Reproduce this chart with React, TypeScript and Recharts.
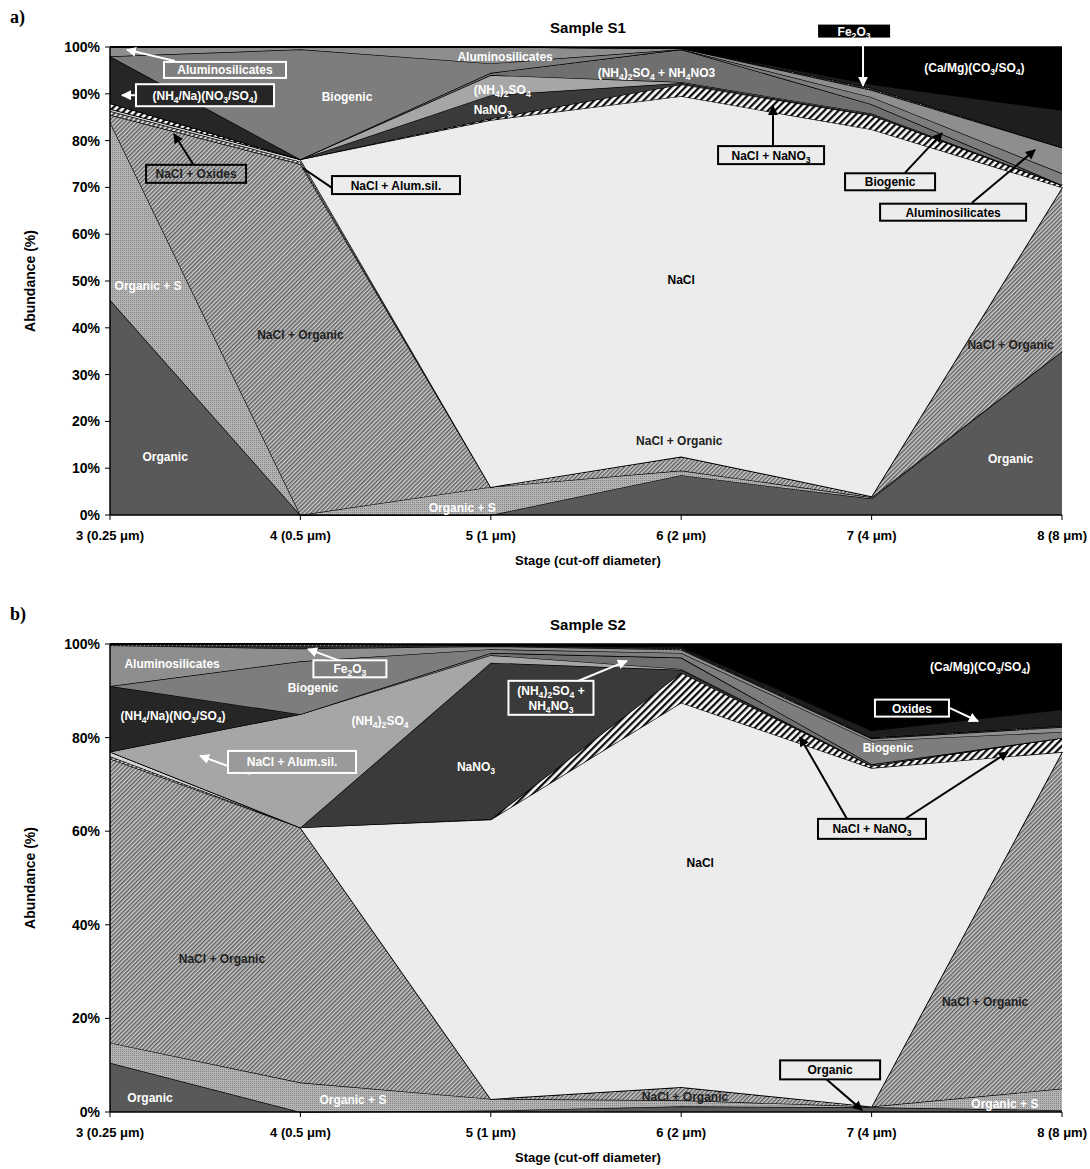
import React from "react";
import { AreaChart, Area, XAxis, YAxis } from "recharts";

const FONT = '"Liberation Sans", Arial, sans-serif';

const stages = ["3 (0.25 μm)", "4 (0.5 μm)", "5 (1 μm)", "6 (2 μm)", "7 (4 μm)", "8 (8 μm)"];

// Sample S1, abundance (%) per stage
const s1Organic = [46, 0, 0, 8.5, 3.5, 35];
const s1OrganicS = [38, 0, 6, 1, 0.3, 0];
const s1NaclOrganic = [1.5, 75, 0, 3, 0.2, 35];
const s1NaclOxides = [0.8, 0.5, 0, 0, 0, 0];
const s1NaclAlum = [0.5, 0.5, 0, 0, 0, 0];
const s1Nacl = [0, 0, 78.4, 77, 78.3, 0];
const s1NaclNano3 = [1.2, 0, 0.3, 2.5, 3, 0.5];
const s1Nano3 = [0, 0, 5, 0.3, 0.2, 0];
const s1Nh4so4 = [0, 0, 4.3, 0.2, 0.2, 0];
const s1Nh4so4no3 = [0, 0, 0.5, 7, 2, 0];
const s1Nh4na = [10, 0, 0, 0, 0, 0];
const s1Biogenic = [0, 23.5, 2, 0, 1.5, 2.5];
const s1Alum = [2, 0.5, 3.5, 0.2, 1.5, 5.5];
const s1Fe2o3 = [0, 0, 0, 0, 0.5, 0];
const s1Oxides = [0, 0, 0, 0, 0.7, 8];
const s1Camg = [0, 0, 0, 0.3, 8, 13.5];

// Sample S2
const s2Organic = [10.5, 0, 0.3, 1.2, 1, 0.4];
const s2OrganicS = [4.3, 6.3, 2.5, 1.3, 0.15, 4.6];
const s2NaclOrganic = [60.7, 54.5, 0, 2.8, 0.05, 72];
const s2NaclOxides = [0.5, 0, 0, 0, 0, 0];
const s2NaclAlum = [1, 0, 0, 0, 0, 0];
const s2Nacl = [0, 0, 59.7, 81.9, 72.3, 0];
const s2NaclNano3 = [0, 0, 0.1, 6.4, 0.5, 3];
const s2Nano3 = [0, 0, 33.4, 0.6, 0, 0];
const s2Nh4so4 = [0, 24.2, 1.6, 0.2, 0, 0];
const s2Nh4so4no3 = [0, 0, 0.5, 2.4, 0.3, 0];
const s2Nh4na = [14, 0, 0, 0, 0, 0];
const s2Biogenic = [0, 11.3, 0.8, 1, 5, 1.3];
const s2Alum = [8.7, 2.7, 0.6, 0.7, 0.5, 1];
const s2Fe2o3 = [0.3, 1, 0.2, 0.3, 0.2, 0.3];
const s2Oxides = [0, 0, 0, 0.3, 1.5, 3.5];
const s2Camg = [0, 0, 0.3, 0.6, 18.5, 14];

const s1Ticks = [0, 0.1, 0.2, 0.3, 0.4, 0.5, 0.6, 0.7, 0.8, 0.9, 1];
const s2Ticks = [0, 0.2, 0.4, 0.6, 0.8, 1];

// bottom to top
const SERIES = [
  { key: "organic", fill: "#595959" },
  { key: "organicS", fill: "url(#stipple)" },
  { key: "naclOrganic", fill: "url(#hatchFine)" },
  { key: "naclOxides", fill: "url(#hatchMid)" },
  { key: "naclAlum", fill: "#d4d4d4" },
  { key: "nacl", fill: "#ececec" },
  { key: "naclNano3", fill: "url(#hatchBold)" },
  { key: "nano3", fill: "#3a3a3a" },
  { key: "nh4so4", fill: "#a6a6a6" },
  { key: "nh4so4no3", fill: "#6f6f6f" },
  { key: "nh4na", fill: "#262626" },
  { key: "biogenic", fill: "#7d7d7d" },
  { key: "alum", fill: "#8e8e8e" },
  { key: "fe2o3", fill: "url(#dots)" },
  { key: "oxides", fill: "#1e1e1e" },
  { key: "camg", fill: "#000000" },
];

const s1Cols = [s1Organic, s1OrganicS, s1NaclOrganic, s1NaclOxides, s1NaclAlum, s1Nacl, s1NaclNano3, s1Nano3,
  s1Nh4so4, s1Nh4so4no3, s1Nh4na, s1Biogenic, s1Alum, s1Fe2o3, s1Oxides, s1Camg];
const s2Cols = [s2Organic, s2OrganicS, s2NaclOrganic, s2NaclOxides, s2NaclAlum, s2Nacl, s2NaclNano3, s2Nano3,
  s2Nh4so4, s2Nh4so4no3, s2Nh4na, s2Biogenic, s2Alum, s2Fe2o3, s2Oxides, s2Camg];

function rows(cols: number[][]) {
  return stages.map((stage, k) => {
    const r: any = { stage };
    SERIES.forEach((s, j) => (r[s.key] = cols[j][k]));
    return r;
  });
}

// labels: text, stage position, percent, colour
type Lbl = [string, number, number, string];
const s1Labels: Lbl[] = [
  ["Biogenic", 1.245, 89.3, "#fff"],
  ["Aluminosilicates", 2.075, 97.9, "#fff"],
  ["(NH_4)_2SO_4", 2.06, 90.8, "#fff"],
  ["NaNO_3", 2.01, 86.5, "#fff"],
  ["(NH_4)_2SO_4 + NH_4NO3", 2.87, 94.4, "#fff"],
  ["(Ca/Mg)(CO_3/SO_4)", 4.54, 95.5, "#fff"],
  ["NaCl", 3.0, 50.2, "#000"],
  ["Organic + S", 0.2, 48.9, "#fff"],
  ["NaCl + Organic", 1.0, 38.5, "#222"],
  ["Organic", 0.29, 12.4, "#fff"],
  ["Organic + S", 1.85, 1.5, "#fff"],
  ["NaCl + Organic", 2.99, 15.8, "#222"],
  ["NaCl + Organic", 4.73, 36.3, "#222"],
  ["Organic", 4.73, 12, "#fff"],
];
const s2Labels: Lbl[] = [
  ["Aluminosilicates", 0.326, 95.7, "#fff"],
  ["Biogenic", 1.066, 90.6, "#fff"],
  ["(NH_4/Na)(NO_3/SO_4)", 0.331, 84.6, "#fff"],
  ["(NH_4)_2SO_4", 1.418, 83.5, "#fff"],
  ["NaNO_3", 1.922, 73.7, "#fff"],
  ["(Ca/Mg)(CO_3/SO_4)", 4.57, 95.1, "#fff"],
  ["Biogenic", 4.086, 77.8, "#fff"],
  ["NaCl", 3.1, 53.2, "#000"],
  ["NaCl + Organic", 0.588, 32.7, "#222"],
  ["NaCl + Organic", 4.596, 23.5, "#222"],
  ["NaCl + Organic", 3.02, 3.2, "#222"],
  ["Organic", 0.21, 3.0, "#fff"],
  ["Organic + S", 1.276, 2.6, "#fff"],
  ["Organic + S", 4.7, 1.7, "#fff"],
];

type Box = { t: string[]; i: number; p: number; w: number; h: number; fill: string; line: string; arrows: number[][]; head: boolean };
const s1Boxes: Box[] = [
  { t: ["Aluminosilicates"], i: 0.604, p: 95.1, w: 122, h: 16, fill: "#7f7f7f", line: "#fff", arrows: [[0.341, 97.0, 0.089, 99.4]], head: true },
  { t: ["(NH_4/Na)(NO_3/SO_4)"], i: 0.499, p: 89.7, w: 138, h: 22, fill: "#262626", line: "#fff", arrows: [[0.131, 89.7, 0.063, 89.7]], head: true },
  { t: ["Fe_2O_3"], i: 3.908, p: 103.4, w: 74, h: 15, fill: "#000", line: "#fff", arrows: [[3.955, 101.9, 3.955, 91.7]], head: true },
  { t: ["NaCl + NaNO_3"], i: 3.472, p: 76.9, w: 106, h: 18, fill: "#ececec", line: "#000", arrows: [[3.482, 78.8, 3.482, 87.4]], head: true },
  { t: ["Biogenic"], i: 4.097, p: 71.2, w: 90, h: 17, fill: "#ececec", line: "#000", arrows: [[4.175, 73.1, 4.37, 81.6]], head: true },
  { t: ["Aluminosilicates"], i: 4.428, p: 64.7, w: 146, h: 17, fill: "#ececec", line: "#000", arrows: [[4.527, 66.7, 4.858, 78]], head: true },
  { t: ["NaCl + Oxides"], i: 0.452, p: 72.9, w: 100, h: 18, fill: "none", line: "#000", arrows: [[0.436, 75, 0.336, 81.4]], head: true },
  { t: ["NaCl + Alum.sil."], i: 1.502, p: 70.5, w: 128, h: 18, fill: "#ececec", line: "#000", arrows: [[1.166, 69.9, 1.014, 74.1]], head: false },
];
const s2Boxes: Box[] = [
  { t: ["Fe_2O_3"], i: 1.26, p: 94.7, w: 73, h: 17, fill: "#7f7f7f", line: "#fff", arrows: [[1.208, 96.4, 1.04, 98.9]], head: true },
  { t: ["NaCl + Alum.sil."], i: 0.956, p: 74.8, w: 128, h: 22, fill: "#9a9a9a", line: "#fff", arrows: [[0.735, 72.2, 0.473, 76.1]], head: true },
  { t: ["(NH_4)_2SO_4 +", "NH_4NO_3"], i: 2.316, p: 88.5, w: 85, h: 34, fill: "#3a3a3a", line: "#fff", arrows: [[2.458, 92.1, 2.715, 96.4]], head: true },
  { t: ["Oxides"], i: 4.212, p: 86.3, w: 74, h: 17, fill: "#000", line: "#fff", arrows: [[4.412, 86.3, 4.559, 83.5]], head: true },
  { t: ["NaCl + NaNO_3"], i: 4.002, p: 60.5, w: 108, h: 20, fill: "#ececec", line: "#000", arrows: [[3.871, 62.6, 3.624, 80.1], [4.175, 62.6, 4.716, 76.9]], head: true },
  { t: ["Organic"], i: 3.782, p: 9.0, w: 100, h: 19, fill: "#ececec", line: "#000", arrows: [[3.761, 7.05, 3.95, 0.4]], head: true },
];

const PLOT_L = 110;
const STEP = 190.4;
const PX_PCT = 4.68;
const X = (i: number) => PLOT_L + i * STEP;

function chem(s: string, fs: number) {
  const tokens = s.split(/(_\d)/).filter(Boolean);
  let prevSub = false;
  return tokens.map((tk, j) => {
    if (tk.startsWith("_")) {
      const el = (
        <tspan key={j} dy={prevSub ? 0 : 3} fontSize={fs * 0.72}>
          {tk.slice(1)}
        </tspan>
      );
      prevSub = true;
      return el;
    }
    const el = (
      <tspan key={j} dy={prevSub ? -3 : 0} fontSize={fs}>
        {tk}
      </tspan>
    );
    prevSub = false;
    return el;
  });
}

function StageTick({ x, y, payload, index }: any) {
  const last = index === stages.length - 1;
  return (
    <text
      x={last ? 1087 : x}
      y={y}
      dy="0.71em"
      textAnchor={last ? "end" : "middle"}
      fill="#000"
      fontSize={13}
      fontWeight="bold"
      fontFamily={FONT}
    >
      {payload.value}
    </text>
  );
}

function Panel({ top, height, cols, ticks, marginBottom }: any) {
  return (
    <div style={{ position: "absolute", left: 0, top }}>
      <AreaChart
        width={1090}
        height={height}
        data={rows(cols)}
        stackOffset="expand"
        margin={{ top: 47, right: 28, left: 50, bottom: marginBottom }}
      >
        <XAxis
          dataKey="stage"
          interval={0}
          height={40}
          tickSize={5}
          tickMargin={11}
          axisLine={{ stroke: "#000", strokeWidth: 1.5 }}
          tickLine={{ stroke: "#000" }}
          tick={<StageTick />}
        />
        <YAxis
          width={60}
          domain={[0, 1]}
          ticks={ticks}
          interval={0}
          tickSize={5}
          tickMargin={5}
          tickFormatter={(v: number) => `${Math.round(v * 100)}%`}
          axisLine={{ stroke: "#000", strokeWidth: 1.5 }}
          tickLine={{ stroke: "#000" }}
          tick={{ fill: "#000", fontSize: 14, fontWeight: "bold", fontFamily: FONT }}
        />
        {SERIES.map((s) => (
          <Area
            key={s.key}
            dataKey={s.key}
            stackId="1"
            type="linear"
            fill={s.fill}
            fillOpacity={1}
            stroke="#000"
            strokeWidth={1.3}
            dot={false}
            activeDot={false}
            isAnimationActive={false}
          />
        ))}
      </AreaChart>
    </div>
  );
}

function Notes({ plotTop, labels, boxes }: { plotTop: number; labels: Lbl[]; boxes: Box[] }) {
  const Y = (p: number) => plotTop + (100 - p) * PX_PCT;
  return (
    <g fontFamily={FONT} fontWeight="bold">
      {labels.map(([t, i, p, c], k) => (
        <text key={"l" + k} x={X(i)} y={Y(p) + 4} textAnchor="middle" fill={c} fontSize={12}>
          {chem(t, 12)}
        </text>
      ))}
      {boxes.map((b, k) =>
        b.arrows.map((a, m) => (
          <line
            key={"a" + k + "-" + m}
            x1={X(a[0])}
            y1={Y(a[1])}
            x2={X(a[2])}
            y2={Y(a[3])}
            stroke={b.line}
            strokeWidth={2}
            markerEnd={b.head ? (b.line === "#fff" ? "url(#headW)" : "url(#headK)") : undefined}
          />
        ))
      )}
      {boxes.map((b, k) => {
        const cx = X(b.i);
        const cy = Y(b.p);
        return (
          <g key={"b" + k}>
            <rect x={cx - b.w / 2} y={cy - b.h / 2} width={b.w} height={b.h} fill={b.fill} stroke={b.line} strokeWidth={2} />
            {b.t.map((line, n) => (
              <text
                key={n}
                x={cx}
                y={cy + 4.5 + (n - (b.t.length - 1) / 2) * 15}
                textAnchor="middle"
                fill={b.fill === "none" ? "#222" : b.line}
                fontSize={12}
              >
                {chem(line, 12)}
              </text>
            ))}
          </g>
        );
      })}
    </g>
  );
}

function Frame({ plotTop, letter, title }: { plotTop: number; letter: string; title: string }) {
  const midY = plotTop + 234;
  return (
    <g fontWeight="bold">
      <text x={10} y={plotTop - 24} fontFamily='"Liberation Serif", "Times New Roman", serif' fontSize={18}>
        {letter}
      </text>
      <text x={588} y={plotTop - 14} textAnchor="middle" fontFamily={FONT} fontSize={15}>
        {title}
      </text>
      <text
        x={35}
        y={midY}
        textAnchor="middle"
        fontFamily={FONT}
        fontSize={14}
        transform={`rotate(-90 35 ${midY})`}
      >
        Abundance (%)
      </text>
      <text x={588} y={plotTop + 468 + 50} textAnchor="middle" fontFamily={FONT} fontSize={13}>
        Stage (cut-off diameter)
      </text>
    </g>
  );
}

export default function App() {
  return (
    <div style={{ position: "absolute", left: 0, top: 0, width: 1090, height: 1169, background: "#fff" }}>
      <Panel top={0} height={590} cols={s1Cols} ticks={s1Ticks} marginBottom={35} />
      <Panel top={597} height={572} cols={s2Cols} ticks={s2Ticks} marginBottom={17} />
      <svg width={1090} height={1169} style={{ position: "absolute", left: 0, top: 0, pointerEvents: "none" }}>
        <defs>
          <pattern id="stipple" patternUnits="userSpaceOnUse" width={2} height={2}>
            <rect width={2} height={2} fill="#b4b4b4" />
            <rect width={1} height={1} fill="#828282" />
          </pattern>
          <pattern id="hatchFine" patternUnits="userSpaceOnUse" width={3} height={3} patternTransform="rotate(45)">
            <rect width={3} height={3} fill="#cdcdcd" />
            <line x1={0.8} y1={0} x2={0.8} y2={3} stroke="#444" strokeWidth={1.2} />
          </pattern>
          <pattern id="hatchMid" patternUnits="userSpaceOnUse" width={4} height={4} patternTransform="rotate(45)">
            <rect width={4} height={4} fill="#dcdcdc" />
            <line x1={1} y1={0} x2={1} y2={4} stroke="#333" strokeWidth={1.6} />
          </pattern>
          <pattern id="hatchBold" patternUnits="userSpaceOnUse" width={5} height={5} patternTransform="rotate(45)">
            <rect width={5} height={5} fill="#fff" />
            <line x1={1.2} y1={0} x2={1.2} y2={5} stroke="#000" strokeWidth={2.2} />
          </pattern>
          <pattern id="dots" patternUnits="userSpaceOnUse" width={4} height={4}>
            <rect width={4} height={4} fill="#2b2b2b" />
            <rect width={1} height={1} fill="#9a9a9a" />
          </pattern>
          <marker id="headW" markerUnits="userSpaceOnUse" markerWidth={10} markerHeight={10} refX={9} refY={5} orient="auto">
            <path d="M0,0 L10,5 L0,10 z" fill="#fff" />
          </marker>
          <marker id="headK" markerUnits="userSpaceOnUse" markerWidth={10} markerHeight={10} refX={9} refY={5} orient="auto">
            <path d="M0,0 L10,5 L0,10 z" fill="#000" />
          </marker>
        </defs>
        <Frame plotTop={47} letter="a)" title="Sample S1" />
        <Frame plotTop={644} letter="b)" title="Sample S2" />
        <Notes plotTop={47} labels={s1Labels} boxes={s1Boxes} />
        <Notes plotTop={644} labels={s2Labels} boxes={s2Boxes} />
      </svg>
    </div>
  );
}
